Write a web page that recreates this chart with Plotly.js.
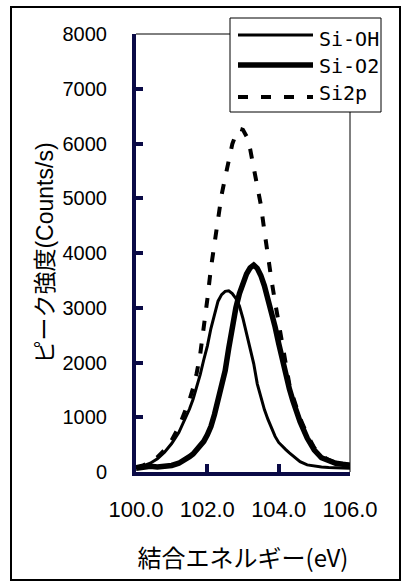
<!DOCTYPE html>
<html><head><meta charset="utf-8">
<script src="https://cdn.plot.ly/plotly-3.0.1.min.js"></script>
<style>html,body{margin:0;padding:0;background:#fff;}#chart{width:402px;height:581px;}</style>
</head><body><div id="chart"></div>
<script>
// ---- data ----
const energy = [100.0,100.2,100.4,100.6,100.8,101.0,101.2,101.4,
  101.5,101.6,101.7,101.8,101.9,102.0,102.1,102.2,102.3,102.4,102.5,102.6,102.7,102.8,102.9,
  103.0,103.1,103.2,103.3,103.4,103.5,103.6,103.7,103.8,103.9,104.0,104.1,104.2,104.3,104.4,104.5,104.6,
  104.8,105.0,105.2,105.4,105.6,105.8,106.0];
const siOH = [80,110,160,240,360,520,720,990,
  1150,1330,1540,1780,2050,2300,2620,2900,3120,3240,3300,3310,3260,3170,3030,
  2800,2530,2280,1980,1610,1350,1140,960,790,650,540,470,410,350,300,240,190,
  130,105,90,80,75,70,68];
const siO2 = [70,95,105,90,100,120,160,230,
  280,330,400,480,560,680,830,1050,1300,1520,1850,2260,2680,3000,3260,
  3480,3620,3730,3780,3720,3590,3400,3170,2930,2650,2350,2050,1760,1520,1300,1100,920,
  620,400,260,200,160,140,125];
const si2p = [90,120,180,270,400,580,820,1130,
  1320,1530,1800,2150,2600,3150,3720,4200,4620,5060,5380,5700,5990,6170,6270,
  6250,6130,5900,5550,5200,4880,4400,3900,3500,3100,2720,2330,1900,1600,1380,1170,980,
  680,440,300,220,170,145,130];
const seriesNames = ['Si-OH','Si-O2','Si2p'];
const yTickVals = [0,1000,2000,3000,4000,5000,6000,7000,8000];
const yTickText = ['0','1000','2000','3000','4000','5000','6000','7000','8000'];
const xTickVals = [100,102,104,106];
const xTickText = ['100.0','102.0','104.0','106.0'];
const xTitle = '結合エネルギー(eV)';
const yTitle = 'ピーク強度(Counts/s)';

// ---- layout geometry (pixels) ----
const L=136, R=350, T=34, B=472;
const px2x = p => (p-L)/(R-L);
const py2y = p => (B-p)/(B-T);

const styles = [
  {width:3, dash:'solid'},
  {width:5.5, dash:'solid'},
  {width:4, dash:'10px,13px'}
];
const seriesY = [siOH, siO2, si2p];
const traces = seriesNames.map((n,i)=>({
  type:'scatter', mode:'lines', name:n, x:energy, y:seriesY[i],
  line:{color:'#000', width:styles[i].width, dash:styles[i].dash},
  showlegend:false, hoverinfo:'skip'
}));

const black = '#000';
const axisInk = 'rgb(10,10,70)';
const shapes = [
  // outer frame
  {type:'rect', xref:'paper', yref:'paper', x0:px2x(11), x1:px2x(400), y0:py2y(580), y1:py2y(7),
   line:{color:black, width:2}, layer:'above'},
  // thin top and right plot border
  {type:'line', xref:'paper', yref:'paper', x0:0, x1:1, y0:1, y1:1, line:{color:black, width:1}},
  {type:'line', xref:'paper', yref:'paper', x0:1, x1:1, y0:0, y1:1, line:{color:black, width:1}},
  // legend box
  {type:'rect', xref:'paper', yref:'paper', x0:px2x(230), x1:px2x(381), y0:py2y(112), y1:py2y(18),
   line:{color:black, width:1}, fillcolor:'#fff', layer:'above'}
];
const legRowsLine = [35, 65, 97];
const legRowsText = [39, 66, 93];
const annotations = [];
seriesNames.forEach((n,i)=>{
  shapes.push({type:'line', xref:'paper', yref:'paper', x0:px2x(238), x1:px2x(313),
    y0:py2y(legRowsLine[i]), y1:py2y(legRowsLine[i]),
    line:{color:black, width:styles[i].width, dash:styles[i].dash}});
  annotations.push({xref:'paper', yref:'paper', x:px2x(317), y:py2y(legRowsText[i]),
    xanchor:'left', yanchor:'middle', showarrow:false, text:n,
    font:{family:'DejaVu Sans Mono, monospace', size:20, color:black}});
});

const layout = {
  width:402, height:581,
  margin:{l:L, r:402-R, t:T, b:581-B, pad:0},
  paper_bgcolor:'#fff', plot_bgcolor:'rgba(0,0,0,0)',
  showlegend:false,
  xaxis:{range:[100,106], tickmode:'array', tickvals:xTickVals, ticktext:xTickText,
    ticks:'inside', ticklen:8, tickwidth:4, tickcolor:axisInk,
    showline:true, linewidth:4, linecolor:axisInk, showgrid:false, zeroline:false,
    tickfont:{family:'Liberation Sans, Arial, sans-serif', size:22, color:black},
    ticklabelstandoff:15, automargin:false,
    title:{text:xTitle, font:{family:'Noto Sans CJK JP', size:24, color:black}, standoff:30}},
  yaxis:{range:[0,8000], tickmode:'array', tickvals:yTickVals, ticktext:yTickText,
    ticks:'inside', ticklen:7, tickwidth:4, tickcolor:axisInk,
    showline:true, linewidth:4, linecolor:axisInk, showgrid:false, zeroline:false,
    tickfont:{family:'Liberation Sans, Arial, sans-serif', size:20, color:black},
    ticklabelstandoff:21, automargin:false,
    title:{text:yTitle, font:{family:'Liberation Sans, Noto Sans CJK JP', size:23, color:black}, standoff:3}},
  shapes:shapes, annotations:annotations
};
Plotly.newPlot('chart', traces, layout, {displayModeBar:false});
</script></body></html>
